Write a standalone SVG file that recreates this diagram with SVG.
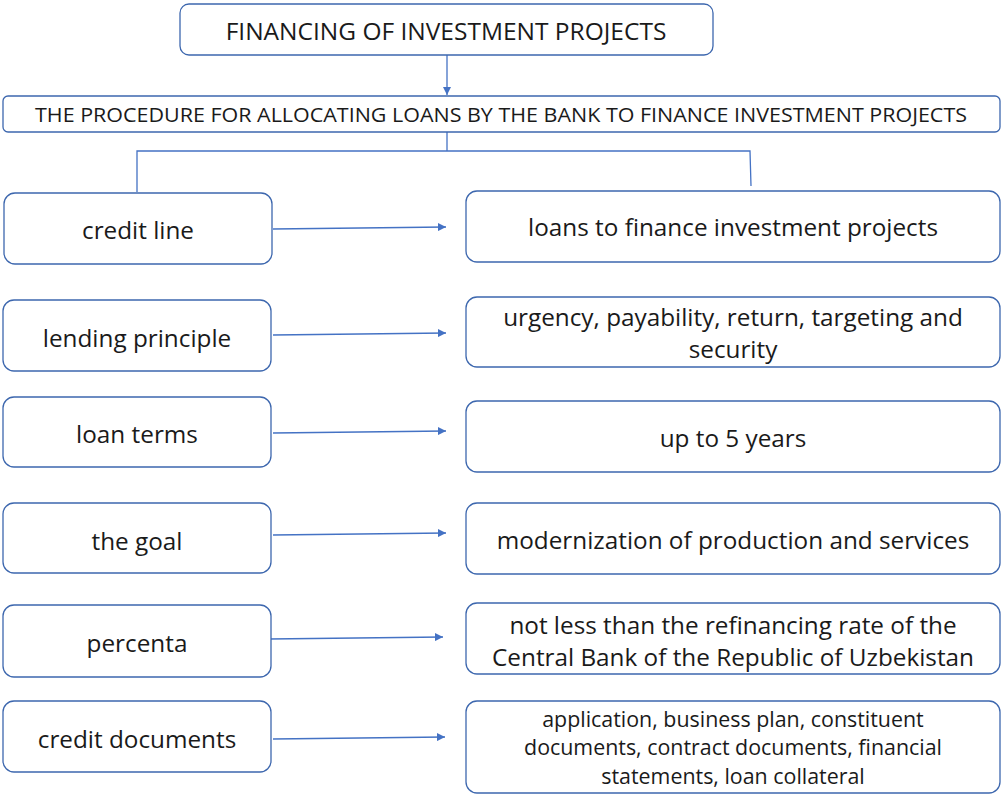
<svg xmlns="http://www.w3.org/2000/svg" width="1001" height="799" viewBox="0 0 1001 799">
<style>
.box{fill:#fff;stroke:#3D67AE;stroke-width:1.3}
.t{font-family:"Open Sans",Lato,sans-serif;font-size:24.3px;fill:#1a1a1a;text-anchor:middle;dominant-baseline:central}
.h{font-size:24.5px}
.s{font-size:21.4px}
.p{font-size:19.5px}
.c{stroke:#4472C4;stroke-width:1.3;fill:none}
</style>
<defs>
<marker id="ah" viewBox="0 0 10 10" refX="10" refY="5" markerWidth="8" markerHeight="8" markerUnits="userSpaceOnUse" orient="auto">
<path d="M0,0 L10,5 L0,10 z" fill="#4472C4"/>
</marker>
</defs>
<g id="connectors">
<line class="c" x1="447" y1="55" x2="447" y2="95" marker-end="url(#ah)"/>
<polyline class="c" points="447,132 447,151"/>
<polyline class="c" points="137,192 137,151 750,151 751,186"/>
<line class="c" x1="273" y1="229" x2="446" y2="227" marker-end="url(#ah)"/>
<line class="c" x1="273" y1="335" x2="446" y2="333" marker-end="url(#ah)"/>
<line class="c" x1="273" y1="433" x2="446" y2="431" marker-end="url(#ah)"/>
<line class="c" x1="273" y1="535" x2="446" y2="533" marker-end="url(#ah)"/>
<line class="c" x1="269" y1="639" x2="443" y2="637" marker-end="url(#ah)"/>
<line class="c" x1="273" y1="739" x2="445" y2="737" marker-end="url(#ah)"/>
</g>
<g id="n-top"><rect class="box" x="180" y="4" width="533" height="51" rx="9"/><text class="t h" x="446" y="30">FINANCING OF INVESTMENT PROJECTS</text></g>
<g id="n-procedure"><rect class="box" x="3" y="96" width="997" height="36" rx="5"/><text class="t p" x="501" y="114" textLength="932" lengthAdjust="spacingAndGlyphs">THE PROCEDURE FOR ALLOCATING LOANS BY THE BANK TO FINANCE INVESTMENT PROJECTS</text></g>
<g id="l1"><rect class="box" x="4" y="193" width="268" height="71" rx="11"/><text class="t" x="138" y="229">credit line</text></g>
<g id="l2"><rect class="box" x="3" y="300" width="268" height="71" rx="11"/><text class="t" x="137" y="337">lending principle</text></g>
<g id="l3"><rect class="box" x="3" y="397" width="268" height="70" rx="11"/><text class="t" x="137" y="433">loan terms</text></g>
<g id="l4"><rect class="box" x="3" y="503" width="268" height="70" rx="11"/><text class="t" x="137" y="540">the goal</text></g>
<g id="l5"><rect class="box" x="3" y="605" width="268" height="72" rx="11"/><text class="t" x="137" y="642">percenta</text></g>
<g id="l6"><rect class="box" x="3" y="701" width="268" height="71" rx="11"/><text class="t" x="137" y="738">credit documents</text></g>
<g id="r1"><rect class="box" x="466" y="191" width="534" height="71" rx="11"/><text class="t" x="733" y="226">loans to finance investment projects</text></g>
<g id="r2"><rect class="box" x="466" y="297" width="534" height="70" rx="11"/><text class="t" x="733" y="316">urgency, payability, return, targeting and</text><text class="t" x="733" y="348">security</text></g>
<g id="r3"><rect class="box" x="466" y="401" width="534" height="71" rx="11"/><text class="t" x="733" y="437">up to 5 years</text></g>
<g id="r4"><rect class="box" x="466" y="503" width="534" height="71" rx="11"/><text class="t" x="733" y="539">modernization of production and services</text></g>
<g id="r5"><rect class="box" x="466" y="603" width="534" height="71" rx="11"/><text class="t" x="733" y="624">not less than the refinancing rate of the</text><text class="t" x="733" y="656">Central Bank of the Republic of Uzbekistan</text></g>
<g id="r6"><rect class="box" x="466" y="701" width="534" height="92" rx="11"/><text class="t s" x="733" y="718">application, business plan, constituent</text><text class="t s" x="733" y="746">documents, contract documents, financial</text><text class="t s" x="733" y="775">statements, loan collateral</text></g>
</svg>
